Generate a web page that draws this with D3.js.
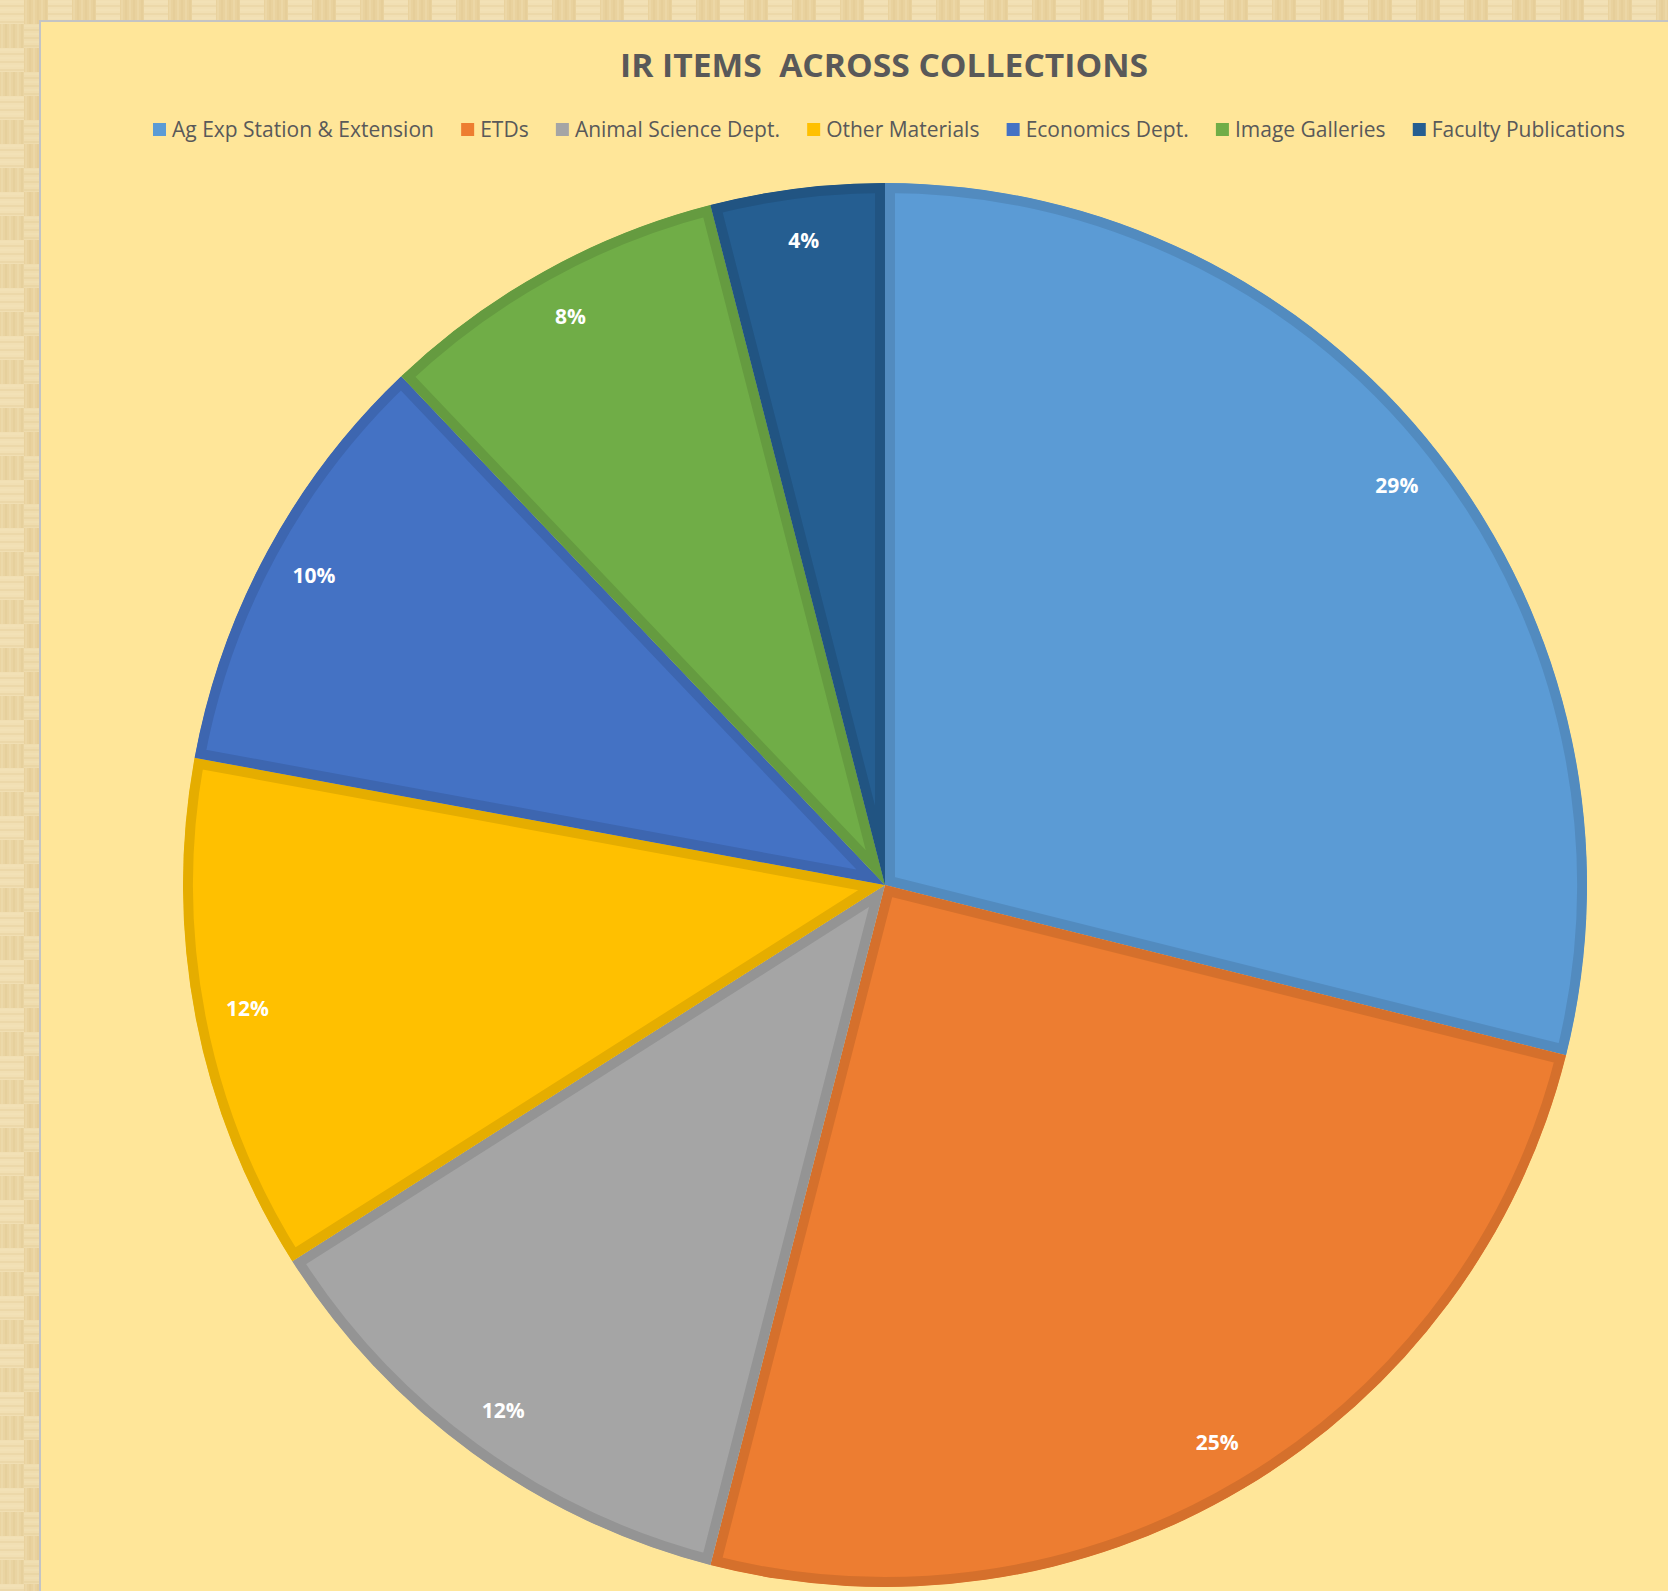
<!DOCTYPE html>
<html>
<head>
<meta charset="utf-8">
<script src="https://cdn.jsdelivr.net/npm/d3@7"></script>
<style>
  html, body { margin: 0; padding: 0; overflow: hidden; }
  svg { display: block; }
</style>
</head>
<body>
<svg id="chart" width="1668" height="1591"></svg>
<script>
// chart data
var categories = ["Ag Exp Station & Extension", "ETDs", "Animal Science Dept.", "Other Materials",
                  "Economics Dept.", "Image Galleries", "Faculty Publications"];
var values = [28.9, 25.1, 12.0, 11.9, 10.0, 8.1, 4.0];
var colors = ["#5B9BD5", "#ED7D31", "#A5A5A5", "#FFC000", "#4472C4", "#70AD47", "#255E91"];
var title = "IR ITEMS  ACROSS COLLECTIONS";

var svg = d3.select('#chart'),
    width = +svg.attr('width'),
    height = +svg.attr('height');

var defs = svg.append('defs');

// woven paper texture behind the chart panel (soft)
var pat = defs.append('pattern')
  .attr('id', 'weave')
  .attr('patternUnits', 'userSpaceOnUse')
  .attr('width', 48).attr('height', 48);
pat.append('rect').attr('width', 48).attr('height', 48).attr('fill', '#EDD8A8');
[[0, 0, '#F1DFB3'], [24, 24, '#EFDCAE'], [24, 0, '#E9D29E'], [0, 24, '#EAD4A2']].forEach(function(c) {
  var gq = pat.append('g').attr('transform', 'translate(' + c[0] + ',' + c[1] + ')');
  gq.append('rect').attr('width', 24).attr('height', 24).attr('fill', c[2]);
  var horiz = (c[0] + c[1]) % 48 === 0;
  for (var i = 0; i < 6; i++) {
    gq.append('rect')
      .attr('x', horiz ? 0 : i * 4 + 1).attr('y', horiz ? i * 4 + 1 : 0)
      .attr('width', horiz ? 24 : 2).attr('height', horiz ? 2 : 24)
      .attr('fill', i % 2 ? '#DCC38C' : '#F5E6C0').attr('opacity', 0.25);
  }
});
svg.append('rect').attr('width', width).attr('height', height).attr('fill', 'url(#weave)');

// chart panel
svg.append('rect')
  .attr('x', 40).attr('y', 21)
  .attr('width', width).attr('height', height)
  .attr('fill', '#FFE699')
  .attr('stroke', '#C4C4C4')
  .attr('stroke-width', 2);

// title
svg.append('text')
  .attr('x', 884).attr('y', 77)
  .attr('text-anchor', 'middle')
  .attr('font-family', 'Open Sans, sans-serif')
  .attr('font-weight', 'bold')
  .attr('font-size', '32px')
  .attr('fill', '#595959')
  .attr('textLength', 528)
  .attr('lengthAdjust', 'spacingAndGlyphs')
  .style('white-space', 'pre')
  .text(title);

// legend
var legend = svg.append('g').attr('class', 'legend');
var item = legend.selectAll('g').data(categories).enter().append('g');
item.append('rect')
  .attr('y', 123).attr('width', 13).attr('height', 13)
  .attr('fill', function(d, i) { return colors[i]; });
item.append('text')
  .attr('x', 19).attr('y', 137)
  .attr('font-family', 'Open Sans, sans-serif')
  .attr('font-size', '21px')
  .attr('fill', '#595959')
  .text(function(d) { return d; });

var legendLeft = 153, legendRight = 1625;
var widths = [];
item.select('text').each(function() { widths.push(19 + this.getComputedTextLength()); });
var gap = (legendRight - legendLeft - d3.sum(widths)) / (categories.length - 1);
var xpos = legendLeft;
item.attr('transform', function(d, i) {
  var t = 'translate(' + xpos + ',0)';
  xpos += widths[i] + gap;
  return t;
});

// pie
var cx = 885, cy = 885, radius = 702;
var g = svg.append('g').attr('transform', 'translate(' + cx + ',' + cy + ')');

var pie = d3.pie().sort(null).value(function(d) { return d; });
var arc = d3.arc().innerRadius(0).outerRadius(radius);
var labelArc = d3.arc().innerRadius(radius * 0.925).outerRadius(radius * 0.925);
var arcs = pie(values);
var total = d3.sum(values);

// clip each slice to itself so its border sits on the inside
arcs.forEach(function(d, i) {
  defs.append('clipPath')
    .attr('id', 'clip' + i)
    .append('path').attr('d', arc(d));
});

g.append('g').selectAll('path')
  .data(arcs)
  .enter().append('path')
  .attr('d', arc)
  .attr('clip-path', function(d, i) { return 'url(#clip' + i + ')'; })
  .attr('fill', function(d, i) { return colors[i]; })
  .attr('stroke', function(d, i) { return d3.color(colors[i]).darker(0.3); })
  .attr('stroke-width', 20)
  .attr('stroke-linejoin', 'miter');

g.append('g').selectAll('text')
  .data(arcs)
  .enter().append('text')
  .attr('transform', function(d) { return 'translate(' + labelArc.centroid(d) + ')'; })
  .attr('dy', '0.35em')
  .attr('text-anchor', 'middle')
  .attr('font-family', 'Open Sans, sans-serif')
  .attr('font-weight', 'bold')
  .attr('font-size', '21px')
  .attr('fill', '#FFFFFF')
  .text(function(d) { return Math.round(d.value / total * 100) + '%'; });
</script>
</body>
</html>
